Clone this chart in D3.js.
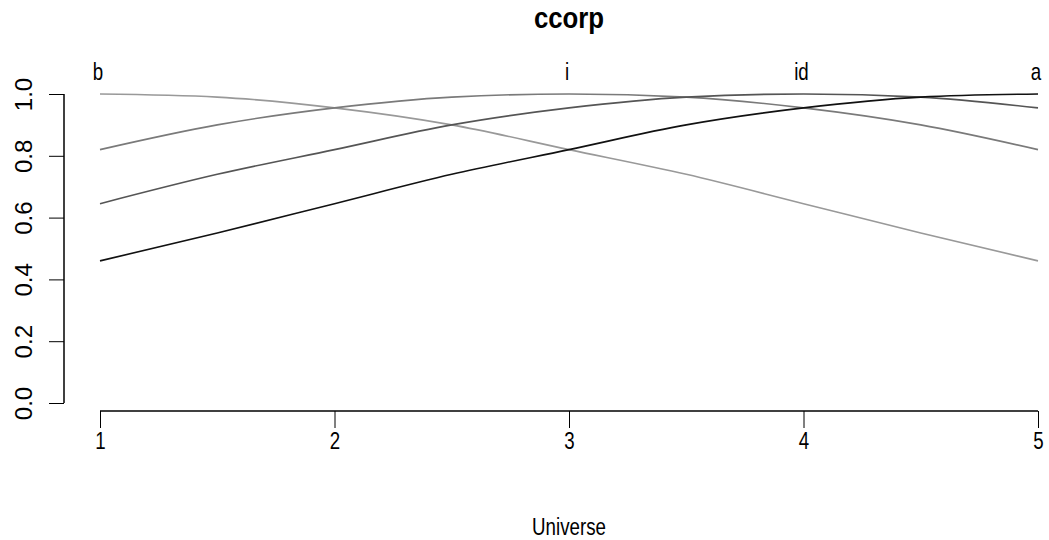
<!DOCTYPE html>
<html>
<head>
<meta charset="utf-8">
<script src="https://cdn.jsdelivr.net/npm/d3@7"></script>
<style>
	body { margin: 0; background: #fff; }
	text { font-family: "Liberation Sans", Arial, sans-serif; fill: #000; }
</style>
</head>
<body>
<div id="chart"></div>
<script>
// universe points, read at half steps
var universe = [1, 1.5, 2, 2.5, 3, 3.5, 4, 4.5, 5];
var setNames = ["b", "i", "id", "a"];
var setPeaks = [1, 3, 4, 5];
var bVals  = [1.0, 0.99, 0.955, 0.9, 0.82, 0.74, 0.645, 0.55, 0.46];
var iVals  = [0.82, 0.9, 0.955, 0.99, 1.0, 0.99, 0.955, 0.9, 0.82];
var idVals = [0.645, 0.74, 0.82, 0.9, 0.955, 0.99, 1.0, 0.99, 0.955];
var aVals  = [0.46, 0.55, 0.645, 0.74, 0.82, 0.9, 0.955, 0.99, 1.0];
var xTicks = [1, 2, 3, 4, 5];
var yTicks = [0, 0.2, 0.4, 0.6, 0.8, 1.0];

var series = [bVals, iVals, idVals, aVals];
var colours = ["#999999", "#7a7a7a", "#555555", "#111111"];

var width = 1049,
	height = 540,
	squash = 0.78; // horizontal text looks condensed in the reference

var x = d3.scaleLinear().domain([1, 5]).range([100, 1038]);
var y = d3.scaleLinear().domain([0, 1]).range([403, 94]);

var svg = d3.select("#chart").append("svg")
	.attr("width", width)
	.attr("height", height);

function squashedText(px, py, str, size, sx) {
	return svg.append("text")
		.attr("transform", "translate(" + px + "," + py + ") scale(" + sx + ",1)")
		.attr("text-anchor", "middle")
		.style("font-size", size + "px")
		.text(str);
}

// title
squashedText(569, 28, "ccorp", 30, 0.86).style("font-weight", "bold");

// x axis, R style (detached)
var xAxis = svg.append("g")
	.attr("transform", "translate(0,411)")
	.call(d3.axisBottom(x).tickValues(xTicks).tickSize(17).tickFormat(d3.format("d")));
xAxis.select(".domain").attr("d", "M" + x(1) + ",0H" + x(5)).attr("stroke", "#000").attr("stroke-width", 1.5);
xAxis.selectAll(".tick line").attr("stroke", "#000");
xAxis.selectAll("text")
	.attr("y", 0).attr("dy", null)
	.attr("transform", "translate(0,38) scale(" + squash + ",1)")
	.style("font-size", "24px")
	.style("font-family", "'Liberation Sans', Arial");

// y axis
var yAxis = svg.append("g")
	.attr("transform", "translate(64,0)")
	.call(d3.axisLeft(y).tickValues(yTicks).tickSize(15).tickFormat(d3.format(".1f")));
yAxis.select(".domain").attr("d", "M0," + y(0) + "V" + y(1)).attr("stroke", "#000").attr("stroke-width", 1.5);
yAxis.selectAll(".tick line").attr("stroke", "#000");
yAxis.selectAll("text")
	.attr("x", 0).attr("y", 0).attr("dy", null)
	.attr("text-anchor", "middle")
	.attr("transform", "translate(-32,0) rotate(-90)")
	.style("font-size", "24px")
	.style("font-family", "'Liberation Sans', Arial");

// x label
squashedText(569, 535, "Universe", 24, squash);

// membership lines
var line = d3.line()
	.x(function(d, i){ return x(universe[i]); })
	.y(function(d){ return y(d); })
	.curve(d3.curveMonotoneX);

svg.selectAll("path.set").data(series)
	.enter().append("path")
		.attr("class", "set")
		.attr("d", line)
		.attr("fill", "none")
		.attr("stroke", function(d, i){ return colours[i]; })
		.attr("stroke-width", 1.6);

// set names above peaks
setNames.forEach(function(name, i){
	squashedText(x(setPeaks[i]) - 2, 80, name, 24, squash);
});
</script>
</body>
</html>
